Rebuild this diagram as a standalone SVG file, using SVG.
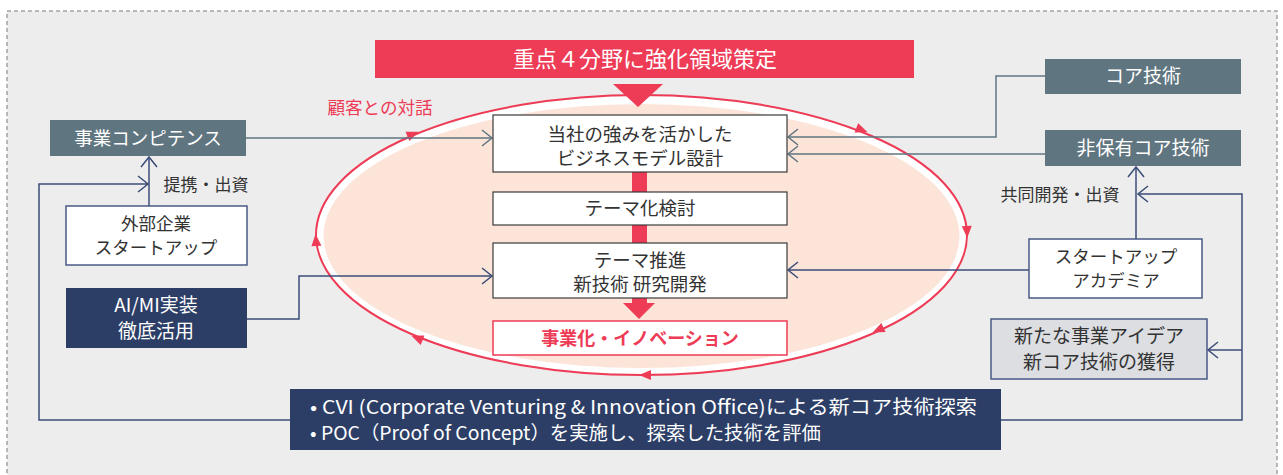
<svg xmlns="http://www.w3.org/2000/svg" width="1283" height="475" viewBox="0 0 1283 475">
<defs>
<style>
text{font-family:"Noto Sans CJK JP","Noto Sans",sans-serif;text-anchor:middle;}
.w{fill:#ffffff;}
.d{fill:#333333;}
.slate{fill:#5f7580;}
.navy{fill:#2c3e66;}
.cbox{fill:#ffffff;stroke:#3a3a3a;stroke-width:1.2;}
.obox{fill:#ffffff;stroke:#4a5a85;stroke-width:1.5;}
.ln-s{fill:none;stroke:#5f7580;stroke-width:1.5;}
.ln-n{fill:none;stroke:#3b4c78;stroke-width:1.5;}
.tri{fill:#ee3b56;}
</style>
<marker id="chevS" markerUnits="userSpaceOnUse" markerWidth="14" markerHeight="20" viewBox="-12 -10 14 20" refX="0" refY="0" orient="auto">
<path d="M-10,-8 L0,0 L-10,8" fill="none" stroke="#5f7580" stroke-width="1.5"/>
</marker>
<marker id="chevN" markerUnits="userSpaceOnUse" markerWidth="14" markerHeight="20" viewBox="-12 -10 14 20" refX="0" refY="0" orient="auto">
<path d="M-10,-8 L0,0 L-10,8" fill="none" stroke="#3b4c78" stroke-width="1.5"/>
</marker>
</defs>

<rect x="0" y="0" width="1283" height="475" fill="#ffffff"/>
<rect x="7" y="11" width="1270" height="480" fill="#ededed" stroke="#a3a3a3" stroke-width="1.5" stroke-dasharray="4,3"/>

<g id="cycle">
<ellipse cx="641.5" cy="235" rx="325" ry="139" fill="#ffffff"/>
<ellipse cx="641.5" cy="236" rx="318" ry="132" fill="#fce4d9"/>
<ellipse cx="641.5" cy="235" rx="325.5" ry="140" fill="none" stroke="#ee3b56" stroke-width="2"/>
<path class="tri" d="M-6,-5 L6,0 L-6,5 Z" transform="translate(413,134) rotate(-23)"/>
<path class="tri" d="M-6,-5 L6,0 L-6,5 Z" transform="translate(862,130) rotate(21)"/>
<path class="tri" d="M-6,-5 L6,0 L-6,5 Z" transform="translate(967,232) rotate(88)"/>
<path class="tri" d="M-6,-5 L6,0 L-6,5 Z" transform="translate(878,330) rotate(155)"/>
<path class="tri" d="M-6,-5 L6,0 L-6,5 Z" transform="translate(645,375) rotate(180)"/>
<path class="tri" d="M-6,-5 L6,0 L-6,5 Z" transform="translate(417,338) rotate(202)"/>
<path class="tri" d="M-6,-5 L6,0 L-6,5 Z" transform="translate(316,240) rotate(-94)"/>
<text x="380" y="114" font-size="17.5" fill="#ee3b56">顧客との対話</text>
</g>

<g id="title">
<rect x="375" y="40" width="539" height="38" fill="#ee3b56"/>
<text x="645" y="67" font-size="22" class="w">重点４分野に強化領域策定</text>
<polygon points="613,84 663,84 638,107" fill="#ee3b56"/>
</g>

<g id="flow-bar">
<rect x="632" y="170" width="15" height="134" fill="#ee3b56"/>
<polygon points="623,303 655,303 639,319" fill="#ee3b56"/>
</g>

<g id="connectors">
<path class="ln-s" d="M246,138 H492" marker-end="url(#chevS)"/>
<path class="ln-n" d="M149,206 V157" marker-end="url(#chevN)"/>
<path class="ln-n" d="M290,420 H39 V184 H148" marker-end="url(#chevN)"/>
<path class="ln-n" d="M247,319 H299 V276 H492" marker-end="url(#chevN)"/>
<path class="ln-s" d="M1045,76 H996 V137 H788" marker-end="url(#chevS)"/>
<path class="ln-s" d="M1045,154 H788" marker-end="url(#chevS)"/>
<path class="ln-n" d="M1136,239 V167" marker-end="url(#chevN)"/>
<path class="ln-n" d="M1001,420 H1242 V194 H1138" marker-end="url(#chevN)"/>
<path class="ln-n" d="M1242,350 H1208" marker-end="url(#chevN)"/>
<path class="ln-n" d="M1029,270 H788" marker-end="url(#chevN)"/>
<text x="206" y="191" font-size="17" class="d">提携・出資</text>
<text x="1060" y="201" font-size="17" class="d">共同開発・出資</text>
</g>

<g id="node-bizmodel">
<rect class="cbox" x="493" y="115" width="294" height="57"/>
<text x="640" y="141" font-size="18.5" class="d">当社の強みを活かした</text>
<text x="640" y="165" font-size="18.5" class="d">ビジネスモデル設計</text>
</g>

<g id="node-theme">
<rect class="cbox" x="493" y="192" width="294" height="33"/>
<text x="640" y="215" font-size="18.5" class="d">テーマ化検討</text>
</g>

<g id="node-promote">
<rect class="cbox" x="493" y="243" width="294" height="55"/>
<text x="640" y="267" font-size="18.5" class="d">テーマ推進</text>
<text x="640" y="291" font-size="18.5" class="d">新技術 研究開発</text>
</g>

<g id="node-innovation">
<rect x="493" y="321" width="294" height="34" fill="#ffffff" stroke="#ee3b56" stroke-width="1.5"/>
<text x="640" y="344.5" font-size="18" font-weight="bold" fill="#ee3b56">事業化・イノベーション</text>
</g>

<g id="node-competence">
<rect class="slate" x="50" y="120" width="196" height="36"/>
<text x="148" y="144.5" font-size="18.5" class="w">事業コンピテンス</text>
</g>

<g id="node-external">
<rect class="obox" x="66" y="206" width="181" height="59"/>
<text x="156" y="230" font-size="17.5" class="d">外部企業</text>
<text x="156" y="254" font-size="17.5" class="d">スタートアップ</text>
</g>

<g id="node-aimi">
<rect class="navy" x="66" y="288" width="181" height="60"/>
<text x="156" y="312" font-size="19" class="w">AI/MI実装</text>
<text x="156" y="338" font-size="19" class="w">徹底活用</text>
</g>

<g id="node-core">
<rect class="slate" x="1045" y="59" width="196" height="35"/>
<text x="1143" y="83" font-size="19" class="w">コア技術</text>
</g>

<g id="node-noncore">
<rect class="slate" x="1045" y="130" width="196" height="36"/>
<text x="1143" y="154.5" font-size="19" class="w">非保有コア技術</text>
</g>

<g id="node-academia">
<rect class="obox" x="1029" y="239" width="173" height="59"/>
<text x="1116" y="263" font-size="17.5" class="d">スタートアップ</text>
<text x="1116" y="287" font-size="17.5" class="d">アカデミア</text>
</g>

<g id="node-newidea">
<rect x="991" y="319" width="216" height="60" fill="#dcdee2" stroke="#4a5a85" stroke-width="1.5"/>
<text x="1099" y="343" font-size="19" class="d">新たな事業アイデア</text>
<text x="1099" y="369" font-size="19" class="d">新コア技術の獲得</text>
</g>

<g id="node-cvi">
<rect class="navy" x="290" y="389" width="711" height="61"/>
<text x="310" y="413.5" font-size="19" class="w" style="text-anchor:start" textLength="667" lengthAdjust="spacingAndGlyphs">• CVI (Corporate Venturing &amp; Innovation Office)による新コア技術探索</text>
<text x="310" y="440" font-size="19" class="w" style="text-anchor:start" textLength="511" lengthAdjust="spacingAndGlyphs">• POC（Proof of Concept）を実施し、探索した技術を評価</text>
</g>
</svg>
